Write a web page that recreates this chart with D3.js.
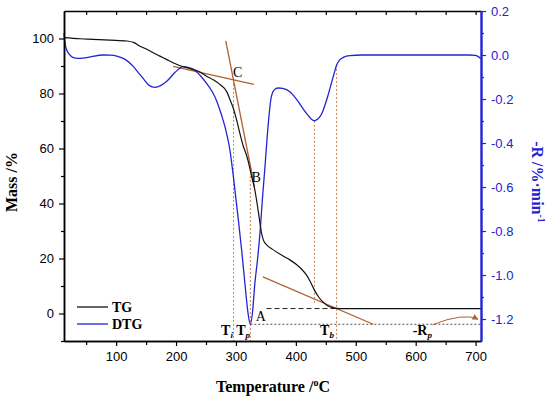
<!DOCTYPE html>
<html>
<head>
<meta charset="utf-8">
<script src="https://cdn.jsdelivr.net/npm/d3@7/dist/d3.min.js"></script>
<style>
body { margin: 0; background: #fff; }
</style>
</head>
<body>
<script>
// TG curve: temperature (C) and mass (%)
var tgTemp = [13, 40, 62, 90, 118, 130, 140, 152, 162, 173, 184, 195, 206, 218, 229, 240, 251, 262, 273, 285, 290, 295, 301, 306, 312, 317, 322, 326, 331, 336, 340, 343, 346, 352, 360, 378, 390, 401, 410, 417, 425, 431, 438, 445, 453, 462, 473, 500, 600, 709];
var tgMass = [100.3, 99.9, 99.7, 99.4, 99.1, 98.5, 97.2, 96.0, 94.8, 93.6, 92.4, 91.2, 90.2, 89.4, 88.7, 87.8, 86.3, 85.0, 83.3, 80.5, 77.8, 75.0, 70.5, 66.0, 61.0, 58.0, 54.0, 50.0, 45.5, 39.0, 33.0, 29.0, 26.6, 24.8, 23.5, 21.0, 19.5, 17.8, 16.0, 14.2, 11.2, 8.5, 6.0, 4.2, 2.8, 2.1, 1.8, 1.8, 1.8, 1.8];

// DTG curve: temperature (C) and -R (%/min)
var dtgTemp = [13, 15, 17.5, 22, 26, 32, 40, 55, 78, 90, 101, 115, 129, 137, 145, 155, 165, 175, 184, 198, 212, 220, 229, 240, 251, 260, 268, 275, 282, 290, 296, 303.5, 310, 315, 320, 324, 328, 331.5, 336, 340, 344, 348, 353.5, 359, 365, 371, 378, 390, 398, 406, 413, 420, 426, 431, 437, 442, 447, 453, 458, 464, 468, 473, 480, 490, 510, 600, 690, 700, 709];
var dtgRate = [0.10, 0.05, 0.023, 0.003, -0.008, -0.014, -0.015, -0.01, 0, -0.001, -0.005, -0.02, -0.053, -0.08, -0.106, -0.138, -0.147, -0.138, -0.121, -0.08, -0.053, -0.056, -0.065, -0.092, -0.129, -0.165, -0.21, -0.265, -0.33, -0.433, -0.56, -0.737, -0.9, -1.04, -1.17, -1.224, -1.16, -1.04, -0.93, -0.813, -0.66, -0.524, -0.327, -0.19, -0.156, -0.15, -0.152, -0.167, -0.19, -0.22, -0.248, -0.273, -0.292, -0.299, -0.29, -0.273, -0.24, -0.19, -0.14, -0.083, -0.045, -0.023, -0.01, -0.003, 0, 0, 0, -0.002, -0.017];

// axis ticks
var xTicks = [100, 200, 300, 400, 500, 600, 700];
var xMinor = [50, 150, 250, 350, 450, 550, 650];
var massTicks = [0, 20, 40, 60, 80, 100];
var massMinor = [-10, 10, 30, 50, 70, 90];
var rateTicks = [0.2, 0.0, -0.2, -0.4, -0.6, -0.8, -1.0, -1.2];
var rateMinor = [0.1, -0.1, -0.3, -0.5, -0.7, -0.9, -1.1];

// construction lines on the TG curve: [T, mass] end points
var tangentC = [[195, 89.9], [330, 83.3]];
var tangentB = [[283, 99.1], [331, 46]];
var tangentA = [[345, 13.3], [529, -3.9]];

// characteristic temperatures
var tIgn = 296, tPeak = 324, tSecond = 431, tBurn = 468;
var massEnd = 1.8, rateMax = -1.224;

var W = 550, H = 399;
var margin = {top: 11, right: 69, bottom: 58, left: 64};

var svg = d3.select("body").append("svg")
    .attr("width", W)
    .attr("height", H);

var x = d3.scaleLinear().domain([13, 709]).range([margin.left, W - margin.right]);
var yL = d3.scaleLinear().domain([-10, 110]).range([H - margin.bottom, margin.top]);
var yR = d3.scaleLinear().domain([-1.3, 0.2]).range([H - margin.bottom, margin.top]);

var blue = "#2323d6";
var brown = "#b0602e";
var dotCol = "#c8804e";
var sans = "'Liberation Sans', Arial, sans-serif";
var serif = "'Liberation Serif', 'Times New Roman', serif";

var x0 = margin.left, x1 = W - margin.right, y0 = margin.top, y1 = H - margin.bottom;

// ---- construction lines ----
function seg(pts, scale) {
    return d3.line().x(function(d) { return x(d[0]); }).y(function(d) { return scale(d[1]); })(pts);
}

// vertical dotted lines
var vlines = [
    [[tIgn, 85.0], [tIgn, -10]],
    [[tPeak, 50.0], [tPeak, -10]],
    [[tSecond, yL.invert(yR(-0.299))], [tSecond, 3.8]],
    [[tBurn, yL.invert(yR(-0.045))], [tBurn, -10]]
];
vlines.forEach(function(v) {
    svg.append("path")
        .attr("d", seg(v, yL))
        .attr("fill", "none")
        .attr("stroke", dotCol)
        .attr("stroke-width", 1)
        .attr("stroke-dasharray", "2,2");
});

// horizontal dashed line at the residue level (A)
svg.append("path")
    .attr("d", seg([[351, massEnd], [tBurn, massEnd]], yL))
    .attr("fill", "none")
    .attr("stroke", "#222")
    .attr("stroke-width", 1)
    .attr("stroke-dasharray", "5,3");

// dotted line at the max rate level
svg.append("path")
    .attr("d", seg([[tPeak, rateMax], [709, rateMax]], yR))
    .attr("fill", "none")
    .attr("stroke", "#222")
    .attr("stroke-width", 0.8)
    .attr("stroke-dasharray", "2,2");

// tangent lines
[tangentC, tangentB, tangentA].forEach(function(t) {
    svg.append("path")
        .attr("d", seg(t, yL))
        .attr("fill", "none")
        .attr("stroke", brown)
        .attr("stroke-width", 1.3);
});

// ---- curves ----
var tgData = tgTemp.map(function(t, i) { return [t, tgMass[i]]; });
var dtgData = dtgTemp.map(function(t, i) { return [t, dtgRate[i]]; });

svg.append("path")
    .datum(dtgData)
    .attr("fill", "none")
    .attr("stroke", blue)
    .attr("stroke-width", 1.3)
    .attr("d", d3.line().curve(d3.curveMonotoneX)
        .x(function(d) { return x(d[0]); })
        .y(function(d) { return yR(d[1]); }));

svg.append("path")
    .datum(tgData)
    .attr("fill", "none")
    .attr("stroke", "#111")
    .attr("stroke-width", 1.2)
    .attr("d", d3.line().curve(d3.curveMonotoneX)
        .x(function(d) { return x(d[0]); })
        .y(function(d) { return yL(d[1]); }));

// arrow towards the right axis for -Rp
var defs = svg.append("defs");
defs.append("marker")
    .attr("id", "arr")
    .attr("viewBox", "0 0 10 10")
    .attr("refX", 9).attr("refY", 5)
    .attr("markerWidth", 6).attr("markerHeight", 6)
    .attr("orient", "auto")
    .append("path")
    .attr("d", "M0,0L10,5L0,10z")
    .attr("fill", brown);

var ax = x(628), ay = yR(-1.226), bx = x(704), by = yR(-1.201), cx = x(680), cy = yR(-1.17);
svg.append("path")
    .attr("d", "M" + ax + "," + ay + "Q" + cx + "," + cy + " " + bx + "," + by)
    .attr("fill", "none")
    .attr("stroke", brown)
    .attr("stroke-width", 1)
    .attr("marker-end", "url(#arr)");

// ---- axes ----
function styleAxis(g, col) {
    g.select(".domain").attr("stroke", col).attr("stroke-width", 1.5);
    g.selectAll(".tick line").attr("stroke", col).attr("stroke-width", 1.2);
    g.selectAll(".tick text").attr("fill", col).attr("font-family", sans).attr("font-size", 13);
}

var gx = svg.append("g").attr("transform", "translate(0," + y1 + ")")
    .call(d3.axisBottom(x).tickValues(xTicks).tickSize(5).tickSizeOuter(0).tickPadding(6).tickFormat(d3.format("d")));
styleAxis(gx, "#000");
var gxm = svg.append("g").attr("transform", "translate(0," + y1 + ")")
    .call(d3.axisBottom(x).tickValues(xMinor).tickSize(4).tickSizeOuter(0).tickFormat(""));
styleAxis(gxm, "#000");

var gt = svg.append("g").attr("transform", "translate(0," + y0 + ")")
    .call(d3.axisTop(x).tickValues(xTicks.concat(xMinor)).tickSize(-4).tickSizeOuter(0).tickFormat(""));
styleAxis(gt, "#000");

var gl = svg.append("g").attr("transform", "translate(" + x0 + ",0)")
    .call(d3.axisLeft(yL).tickValues(massTicks).tickSize(5).tickSizeOuter(0).tickPadding(5).tickFormat(d3.format("d")));
styleAxis(gl, "#000");
var glm = svg.append("g").attr("transform", "translate(" + x0 + ",0)")
    .call(d3.axisLeft(yL).tickValues(massMinor).tickSize(3).tickSizeOuter(0).tickFormat(""));
styleAxis(glm, "#000");

var gr = svg.append("g").attr("transform", "translate(" + x1 + ",0)")
    .call(d3.axisRight(yR).tickValues(rateTicks).tickSize(5).tickSizeOuter(0).tickPadding(5)
        .tickFormat(function(d) { return d3.format(".1f")(d).replace("\u2212", "-"); }));
styleAxis(gr, blue);
var grm = svg.append("g").attr("transform", "translate(" + x1 + ",0)")
    .call(d3.axisRight(yR).tickValues(rateMinor).tickSize(3).tickSizeOuter(0).tickFormat(""));
styleAxis(grm, blue);
gr.select(".domain").attr("stroke-width", 2.2);

// ---- axis titles ----
var xt = svg.append("text")
    .attr("x", 273).attr("y", 392)
    .attr("text-anchor", "middle")
    .attr("font-family", serif).attr("font-weight", "bold").attr("font-size", 16);
xt.append("tspan").text("Temperature /");
xt.append("tspan").attr("dy", -6).attr("font-size", 10).text("o");
xt.append("tspan").attr("dy", 6).text("C");

svg.append("text")
    .attr("transform", "translate(17,182) rotate(-90)")
    .attr("text-anchor", "middle")
    .attr("font-family", serif).attr("font-weight", "bold").attr("font-size", 16)
    .text("Mass /%");

var rt = svg.append("text")
    .attr("transform", "translate(532,182) rotate(90)")
    .attr("text-anchor", "middle")
    .attr("fill", blue)
    .attr("font-family", serif).attr("font-weight", "bold").attr("font-size", 16);
rt.append("tspan").text("-R /%\u00b7min");
rt.append("tspan").attr("dy", -6).attr("font-size", 10).text("-1");

// ---- legend ----
var legend = [["TG", "#111", 307], ["DTG", blue, 324]];
legend.forEach(function(l) {
    svg.append("line")
        .attr("x1", 77).attr("x2", 108).attr("y1", l[2]).attr("y2", l[2])
        .attr("stroke", l[1]).attr("stroke-width", 1.3);
    svg.append("text")
        .attr("x", 112).attr("y", l[2] + 5)
        .attr("font-family", serif).attr("font-weight", "bold").attr("font-size", 14)
        .text(l[0]);
});

// ---- point labels ----
function plain(t, T, m) {
    svg.append("text")
        .attr("x", x(T)).attr("y", yL(m))
        .attr("font-family", serif).attr("font-size", 14)
        .text(t);
}
plain("C", 295, 86.0);
plain("B", 326, 47.8);
plain("A", 333, -2.6);

function sub(main, s, T, m) {
    var t = svg.append("text")
        .attr("x", x(T)).attr("y", yL(m))
        .attr("text-anchor", "middle")
        .attr("font-family", serif).attr("font-weight", "bold").attr("font-size", 14);
    t.append("tspan").text(main);
    t.append("tspan").attr("dy", 3).attr("font-size", 9).attr("font-style", "italic").text(s);
}
sub("T", "i", 285, -7.8);
sub("T", "p", 312, -7.8);
sub("T", "b", 452, -7.8);
sub("-R", "p", 611, -7.8);
</script>
</body>
</html>
